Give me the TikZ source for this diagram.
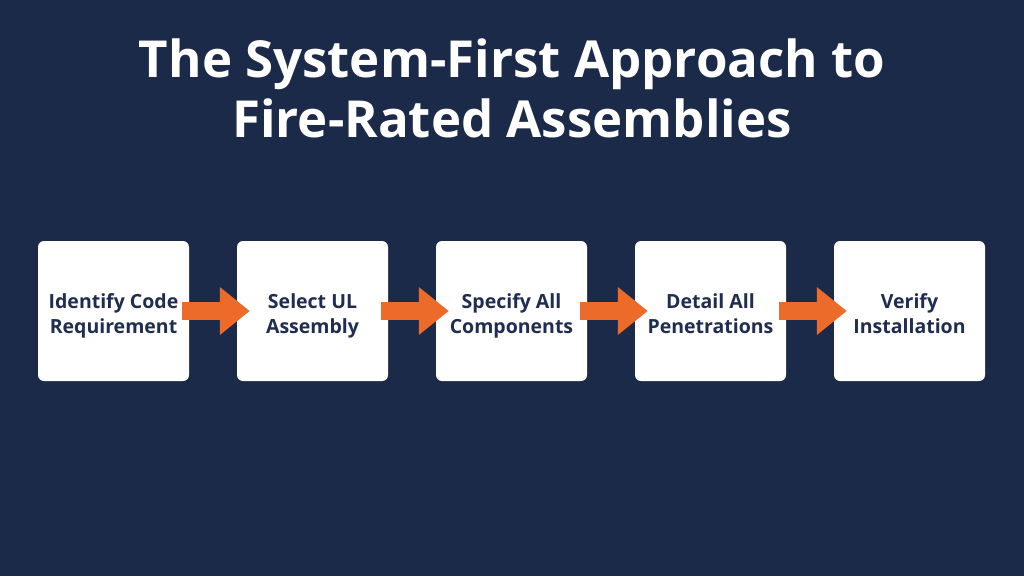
\documentclass[tikz,border=0pt]{standalone}
\usepackage{fontspec}
\setmainfont{Open Sans}
\usetikzlibrary{arrows.meta}
\definecolor{navy}{HTML}{1C2A4A}
\definecolor{boxtext}{HTML}{1E2D50}
\definecolor{flow}{HTML}{EC6B2A}
\begin{document}
\begin{tikzpicture}[x=1pt, y=-1pt, font=\bfseries,
  box/.style={rectangle, fill=white, rounded corners=6pt, minimum width=151pt, minimum height=140pt, align=center, text=boxtext, font=\fontsize{19.5}{25}\selectfont\bfseries, text height=49pt, text depth=5pt},
  flowarrow/.style={draw=flow, line width=18pt, -{Triangle[length=30pt, width=46pt]}, shorten <=-7pt, shorten >=-13pt}]
  \fill[navy] (0,0) rectangle (1024,576);
  \useasboundingbox (0,0) rectangle (1024,576);
  \node[text=white, align=center, font=\fontsize{51}{60}\selectfont\bfseries] (title) at (512,88) {The System-First Approach to\\Fire-Rated Assemblies};
  \node[box] (b1) at (113.5,311) {Identify Code\\Requirement};
  \node[box] (b2) at (312.5,311) {Select UL\\Assembly};
  \node[box] (b3) at (511.5,311) {Specify All\\Components};
  \node[box] (b4) at (710.5,311) {Detail All\\Penetrations};
  \node[box] (b5) at (909.5,311) {Verify\\Installation};
  \draw[flowarrow] (b1) -- (b2);
  \draw[flowarrow] (b2) -- (b3);
  \draw[flowarrow] (b3) -- (b4);
  \draw[flowarrow] (b4) -- (b5);
\end{tikzpicture}
\end{document}
